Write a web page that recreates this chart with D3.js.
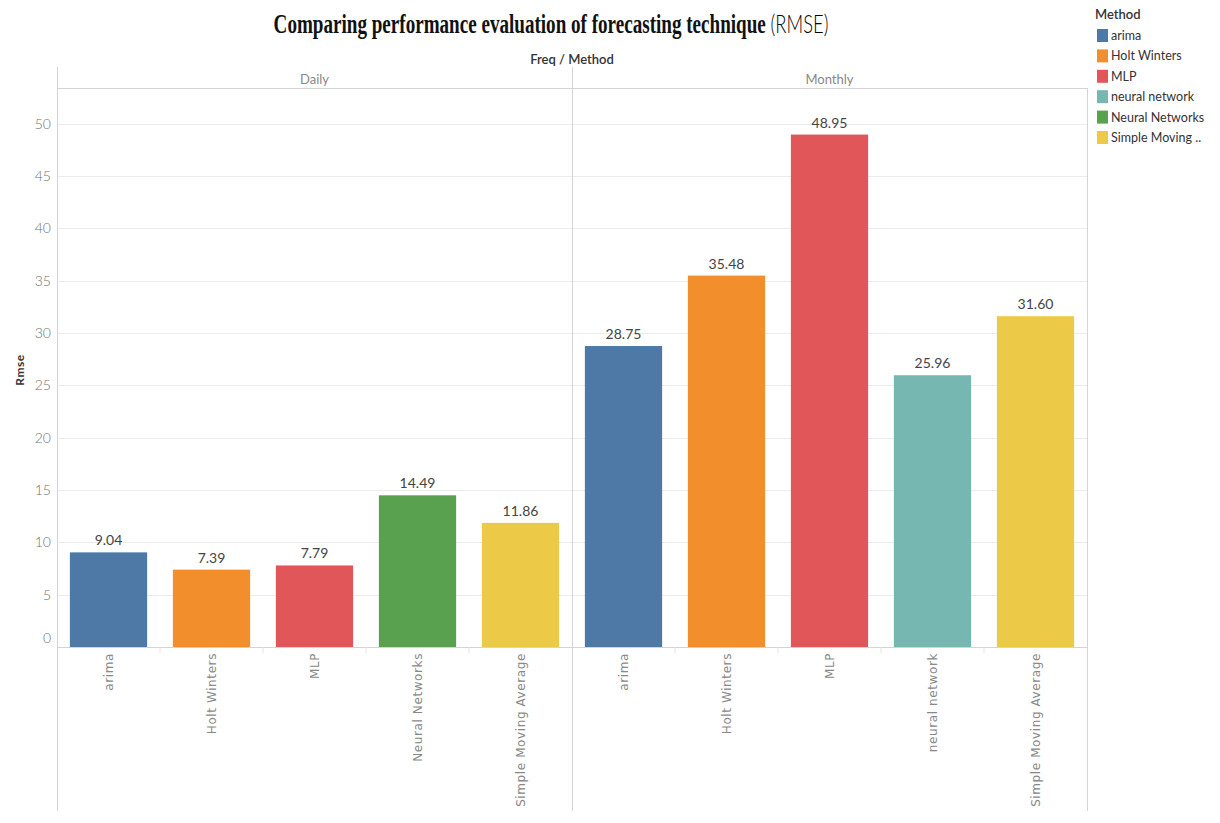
<!DOCTYPE html>
<html>
<head>
<meta charset="utf-8">
<script src="https://cdn.jsdelivr.net/npm/d3@7"></script>
<style>
  html, body { margin: 0; padding: 0; background: #fff; }
  svg { display: block; }
</style>
</head>
<body>
<svg id="chart" width="1220" height="823"></svg>
<script>
// RMSE of each forecasting method, split by data frequency
const freqs = ["Daily", "Monthly"];
const dailyMethods = ["arima", "Holt Winters", "MLP", "Neural Networks", "Simple Moving Average"];
const dailyRmse = [9.04, 7.39, 7.79, 14.49, 11.86];
const monthlyMethods = ["arima", "Holt Winters", "MLP", "neural network", "Simple Moving Average"];
const monthlyRmse = [28.75, 35.48, 48.95, 25.96, 31.60];
const yTicks = [0, 5, 10, 15, 20, 25, 30, 35, 40, 45, 50];
const legendMethods = ["arima", "Holt Winters", "MLP", "neural network", "Neural Networks", "Simple Moving Average"];
const legendLabels = ["arima", "Holt Winters", "MLP", "neural network", "Neural Networks", "Simple Moving .."];
const methodColors = ["#4e79a7", "#f28e2b", "#e15759", "#76b7b2", "#59a14f", "#edc948"];

const panels = [
  { freq: freqs[0], methods: dailyMethods, values: dailyRmse },
  { freq: freqs[1], methods: monthlyMethods, values: monthlyRmse }
];

const svg = d3.select("#chart");
const plotLeft = 57, plotRight = 1087, plotTop = 88, base = 647, plotBottom = 811, frameTop = 67;
const gridColor = "#ececec", lineColor = "#d4d4d4";
const sans = "Lato, 'Open Sans', sans-serif";

const color = d3.scaleOrdinal().domain(legendMethods).range(methodColors);
const y = d3.scaleLinear().domain([0, 53.4]).range([base, plotTop]);
const panelX = d3.scaleBand().domain(freqs).range([plotLeft, plotRight]);

// Title: serif bold text followed by the light "(RMSE)"
const title = svg.append("text")
  .attr("x", 551).attr("y", 33)
  .attr("text-anchor", "middle");
title.append("tspan")
  .attr("font-family", "'Liberation Serif', 'Times New Roman', serif")
  .attr("font-weight", "bold").attr("font-size", 27)
  .attr("fill", "#111")
  .text("Comparing performance evaluation of forecasting technique ");
title.append("tspan")
  .attr("font-family", sans).attr("font-weight", 300).attr("font-size", 26)
  .attr("fill", "#000")
  .text("(RMSE)");
// Fit the title into its span
const tb = title.node().getBBox();
const targetW = 555;
title.attr("transform", `translate(${551},0) scale(${targetW / tb.width},1) translate(${-551},0)`);

// Column header
svg.append("text")
  .attr("x", panelX("Monthly")).attr("y", 64)
  .attr("text-anchor", "middle")
  .attr("font-family", sans).attr("font-size", 13).attr("font-weight", 600)
  .attr("fill", "#333")
  .text("Freq / Method");

// Gridlines
svg.append("g").selectAll("line")
  .data(yTicks.filter(t => t > 0))
  .join("line")
  .attr("x1", plotLeft).attr("x2", plotRight)
  .attr("y1", d => Math.round(y(d)) + 0.5).attr("y2", d => Math.round(y(d)) + 0.5)
  .attr("stroke", gridColor);

// Y axis tick labels
const yAxis = d3.axisLeft(y).tickValues(yTicks).tickSize(0).tickPadding(6);
const ya = svg.append("g").attr("transform", `translate(${plotLeft},0)`).call(yAxis);
ya.select(".domain").remove();
ya.selectAll("text")
  .attr("font-family", sans).attr("font-size", 14).attr("font-weight", 300)
  .attr("fill", "#707070")
  .attr("dy", d => d === 0 ? "-0.35em" : "0.32em");

// Y axis title
svg.append("text")
  .attr("transform", `translate(24,${370}) rotate(-90)`)
  .attr("text-anchor", "middle")
  .attr("font-family", sans).attr("font-size", 12).attr("font-weight", 700)
  .attr("letter-spacing", 0.5)
  .attr("fill", "#333")
  .text("Rmse");

// Frame lines
svg.append("line").attr("x1", plotLeft + 0.5).attr("x2", plotLeft + 0.5).attr("y1", frameTop).attr("y2", plotBottom).attr("stroke", lineColor);
svg.append("line").attr("x1", panelX("Monthly") + 0.5).attr("x2", panelX("Monthly") + 0.5).attr("y1", frameTop).attr("y2", plotBottom).attr("stroke", lineColor);
svg.append("line").attr("x1", plotRight + 0.5).attr("x2", plotRight + 0.5).attr("y1", plotTop).attr("y2", plotBottom).attr("stroke", lineColor);
svg.append("line").attr("x1", plotLeft).attr("x2", plotRight).attr("y1", plotTop + 0.5).attr("y2", plotTop + 0.5).attr("stroke", lineColor);
svg.append("line").attr("x1", plotLeft).attr("x2", plotRight).attr("y1", base + 0.5).attr("y2", base + 0.5).attr("stroke", lineColor);

const fmt = d3.format(".2f");

panels.forEach(p => {
  const x0 = panelX(p.freq);
  const x = d3.scaleBand().domain(p.methods)
    .range([x0, x0 + panelX.bandwidth()])
    .paddingInner(0.25).paddingOuter(0.125);
  const g = svg.append("g");

  // Panel header
  g.append("text")
    .attr("x", x0 + panelX.bandwidth() / 2).attr("y", 84)
    .attr("text-anchor", "middle")
    .attr("font-family", sans).attr("font-size", 13)
    .attr("fill", "#888")
    .text(p.freq);

  const rows = p.methods.map((m, i) => ({ m, v: p.values[i] }));

  // Faint separators between category slots below the baseline
  g.selectAll("line.sep")
    .data(p.methods.slice(1))
    .join("line")
    .attr("class", "sep")
    .attr("x1", d => x(d) - x.step() * x.paddingInner() / 2)
    .attr("x2", d => x(d) - x.step() * x.paddingInner() / 2)
    .attr("y1", base).attr("y2", base + 6)
    .attr("stroke", "#e4e4e4");

  g.selectAll("rect")
    .data(rows)
    .join("rect")
    .attr("x", d => x(d.m))
    .attr("width", x.bandwidth())
    .attr("y", d => y(d.v))
    .attr("height", d => base - y(d.v))
    .attr("fill", d => color(d.m));

  g.selectAll("text.val")
    .data(rows)
    .join("text")
    .attr("class", "val")
    .attr("x", d => x(d.m) + x.bandwidth() / 2)
    .attr("y", d => y(d.v) - 7)
    .attr("text-anchor", "middle")
    .attr("font-family", sans).attr("font-size", 14)
    .attr("fill", "#444")
    .text(d => fmt(d.v));

  g.selectAll("text.cat")
    .data(p.methods)
    .join("text")
    .attr("class", "cat")
    .attr("transform", d => `translate(${x(d) + x.bandwidth() / 2 + 4},${base + 6}) rotate(-90)`)
    .attr("text-anchor", "end")
    .attr("font-family", "'DejaVu Sans', sans-serif").attr("font-size", 12)
    .attr("letter-spacing", 0.6)
    .attr("fill", "#888")
    .text(d => d);
});

// Legend
const lg = svg.append("g").attr("transform", "translate(1095,0)");
lg.append("text")
  .attr("x", 0).attr("y", 19)
  .attr("font-family", sans).attr("font-size", 13).attr("font-weight", 600)
  .attr("fill", "#333")
  .text("Method");
const items = lg.selectAll("g.item")
  .data(legendMethods)
  .join("g")
  .attr("class", "item")
  .attr("transform", (d, i) => `translate(0,${29 + i * 20.4})`);
items.append("rect")
  .attr("x", 2).attr("y", 0).attr("width", 11).attr("height", 13)
  .attr("fill", d => color(d));
items.append("text")
  .attr("x", 16).attr("y", 11)
  .attr("font-family", sans).attr("font-size", 12.5)
  .attr("fill", "#333")
  .text((d, i) => legendLabels[i]);
</script>
</body>
</html>
